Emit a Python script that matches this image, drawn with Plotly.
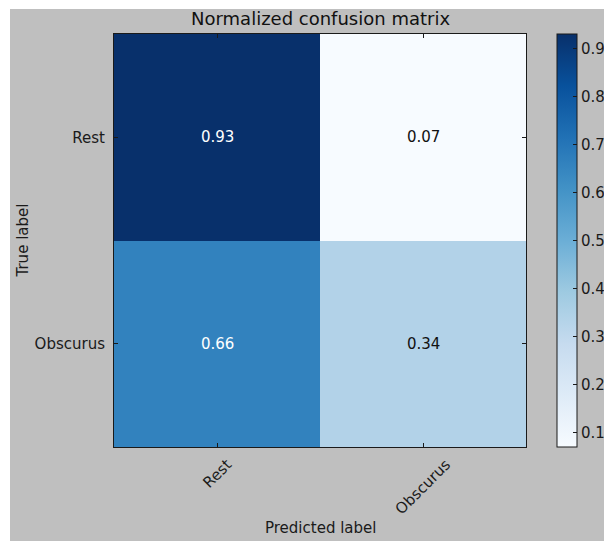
import plotly.graph_objects as go

# Confusion matrix data (rows = true label, columns = predicted label)
classes = ["Rest", "Obscurus"]
row_rest = [0.93, 0.07]
row_obscurus = [0.66, 0.34]
cbar_ticks = [0.1, 0.2, 0.3, 0.4, 0.5, 0.6, 0.7, 0.8, 0.9]

matrix = [row_rest, row_obscurus]
vmin = min(min(r) for r in matrix)
vmax = max(max(r) for r in matrix)
thresh = vmax / 2.0

FONT = "DejaVu Sans"
GRAY = "#bfbfbf"
INK = "#1a1a1a"
FS = 15

# ColorBrewer "Blues" (9 classes)
blues = ["#f7fbff", "#deebf7", "#c6dbef", "#9ecae1", "#6baed6",
         "#4292c6", "#2171b5", "#08519c", "#08306b"]
colorscale = [[i / (len(blues) - 1), c] for i, c in enumerate(blues)]

W, H = 604, 541
L, R, T, B = 114, 78, 34, 94
pw, ph = W - L - R, H - T - B

fig = go.Figure()
fig.add_trace(go.Heatmap(
    z=matrix, x=classes, y=classes,
    zmin=vmin, zmax=vmax,
    colorscale=colorscale,
    xgap=0, ygap=0,
    hoverinfo="skip",
    colorbar=dict(
        x=(557 - L) / pw, xanchor="left", xpad=0,
        y=0, yanchor="bottom", len=1, lenmode="fraction", ypad=0,
        thickness=20,
        outlinecolor=INK, outlinewidth=1,
        tickvals=cbar_ticks, ticktext=[f"{t:.1f}" for t in cbar_ticks],
        ticks="inside", ticklen=4, tickcolor=INK,
        tickfont=dict(family=FONT, size=FS, color=INK),
    ),
))

annotations = []
# Cell values
for i, row in enumerate(matrix):
    for j, v in enumerate(row):
        annotations.append(dict(
            x=classes[j], y=classes[i], xref="x", yref="y",
            text=f"{v:.2f}", showarrow=False,
            font=dict(family=FONT, size=FS,
                      color="white" if v > thresh else "#111111"),
        ))

# Rotated x tick labels centred under each tick
for c in classes:
    annotations.append(dict(
        x=c, y=0, xref="x", yref="paper",
        text=c, showarrow=False, textangle=-45,
        xanchor="center", yanchor="top", yshift=-6,
        font=dict(family=FONT, size=FS, color=INK),
    ))

# Axis titles
annotations.append(dict(
    x=0.5, y=0, xref="paper", yref="paper", text="Predicted label",
    showarrow=False, xanchor="center", yanchor="middle", yshift=-81,
    font=dict(family=FONT, size=FS, color=INK),
))
annotations.append(dict(
    x=0, y=0.5, xref="paper", yref="paper", text="True label",
    showarrow=False, textangle=-90, xanchor="center", yanchor="middle",
    xshift=-92,
    font=dict(family=FONT, size=FS, color=INK),
))
# Title
annotations.append(dict(
    x=0.5, y=1, xref="paper", yref="paper", text="Normalized confusion matrix",
    showarrow=False, xanchor="center", yanchor="middle", yshift=16,
    font=dict(family=FONT, size=18, color="#111111"),
))

# Thin white strips along the top and left edges of the gray figure
shapes = [
    dict(type="rect", xref="paper", yref="paper", layer="below",
         x0=(-5 - L) / pw, x1=(W + 5 - L) / pw,
         y0=(ph + T - 9) / ph, y1=(ph + T + 5) / ph,
         fillcolor="white", line=dict(width=0)),
    dict(type="rect", xref="paper", yref="paper", layer="below",
         x0=(-5 - L) / pw, x1=(10 - L) / pw,
         y0=-(B + 5) / ph, y1=(ph + T + 5) / ph,
         fillcolor="white", line=dict(width=0)),
]

fig.update_layout(
    width=W, height=H,
    margin=dict(l=L, r=R, t=T, b=B, pad=0, autoexpand=False),
    paper_bgcolor=GRAY, plot_bgcolor=GRAY,
    font=dict(family=FONT, size=FS, color=INK),
    annotations=annotations, shapes=shapes,
    xaxis=dict(
        showticklabels=False, ticks="inside", ticklen=4, tickcolor=INK,
        showline=True, linecolor=INK, linewidth=1, mirror="allticks",
        showgrid=False, zeroline=False, fixedrange=True,
    ),
    yaxis=dict(
        autorange="reversed",
        ticks="inside", ticklen=4, tickcolor=INK,
        showline=True, linecolor=INK, linewidth=1, mirror="allticks",
        showgrid=False, zeroline=False, fixedrange=True,
        tickfont=dict(family=FONT, size=FS, color=INK),
        ticklabelstandoff=5,
    ),
)

fig.write_html("out.html")
